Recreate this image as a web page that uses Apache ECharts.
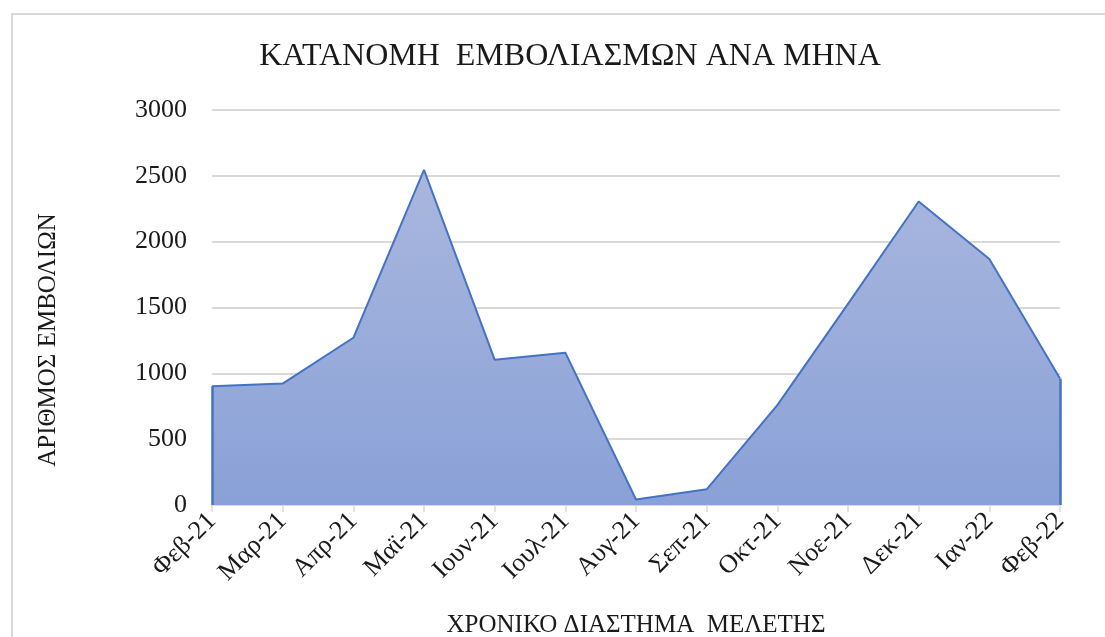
<!DOCTYPE html>
<html lang="el">
<head>
    <meta charset="utf-8">
    <script src="https://cdn.jsdelivr.net/npm/echarts@6/dist/echarts.min.js"></script>
</head>
<body style="margin:0;background:#fff;">
<div id="main" style="width:1105px;height:637px;"></div>
<script>
    var months = ['Φεβ-21', 'Μαρ-21', 'Απρ-21', 'Μαϊ-21', 'Ιουν-21', 'Ιουλ-21', 'Αυγ-21',
        'Σεπ-21', 'Οκτ-21', 'Νοε-21', 'Δεκ-21', 'Ιαν-22', 'Φεβ-22'];
    var vaccinations = [902, 922, 1270, 2545, 1104, 1157, 42, 119, 758, 1528, 2305, 1869, 960];

    var titleText = 'ΚΑΤΑΝΟΜΗ  ΕΜΒΟΛΙΑΣΜΩΝ ΑΝΑ ΜΗΝΑ';
    var yName = 'ΑΡΙΘΜΟΣ ΕΜΒΟΛΙΩΝ';
    var xName = 'ΧΡΟΝΙΚΟ ΔΙΑΣΤΗΜΑ  ΜΕΛΕΤΗΣ';

    var font = '"Liberation Serif", "DejaVu Serif", serif';
    var last = months.length - 1;

    var chart = echarts.init(document.getElementById('main'), null, {renderer: 'canvas'});
    chart.setOption({
        animation: false,
        textStyle: {fontFamily: font, color: '#1a1a1a'},
        graphic: [{
            type: 'rect',
            shape: {x: 12, y: 14, width: 1120, height: 660},
            style: {fill: 'none', stroke: '#d9d9d9', lineWidth: 2}
        }, {
            // y axis title, placed like the original (a bit below the plot centre)
            type: 'text',
            x: 48,
            y: 340,
            rotation: Math.PI / 2,
            style: {
                text: yName,
                font: '25px ' + font,
                fill: '#1a1a1a',
                textAlign: 'center',
                textVerticalAlign: 'middle'
            }
        }],
        title: {
            text: titleText,
            left: 565,
            top: 36,
            textAlign: 'center',
            textStyle: {fontFamily: font, fontSize: 32, fontWeight: 'normal', color: '#1a1a1a'}
        },
        grid: {left: 212, right: 45, top: 110, bottom: 132, outerBoundsMode: 'none', containLabel: false},
        xAxis: {
            type: 'category',
            data: months,
            boundaryGap: false,
            name: xName,
            nameLocation: 'middle',
            nameGap: 108,
            nameTextStyle: {fontFamily: font, fontSize: 25, color: '#1a1a1a'},
            axisLine: {lineStyle: {color: '#d9d9d9', width: 1.5}},
            axisTick: {show: true, alignWithLabel: true, length: 7, lineStyle: {color: '#d9d9d9', width: 1.5}},
            axisLabel: {
                rotate: 45,
                margin: 12,
                interval: 0,
                fontFamily: font,
                fontSize: 26,
                color: '#1a1a1a'
            }
        },
        yAxis: {
            type: 'value',
            min: 0,
            max: 3000,
            interval: 500,
            axisLine: {show: false},
            axisTick: {show: false},
            axisLabel: {
                fontFamily: font,
                fontSize: 26,
                color: '#1a1a1a',
                margin: 25,
                formatter: function (v) { return String(v); }
            },
            splitLine: {lineStyle: {color: '#d9d9d9', width: 2}}
        },
        series: [{
            type: 'line',
            data: vaccinations,
            symbol: 'none',
            lineStyle: {color: '#4472c4', width: 2},
            areaStyle: {
                opacity: 1,
                color: new echarts.graphic.LinearGradient(0, 0, 0, 1, [
                    {offset: 0, color: '#a9b7de'},
                    {offset: 1, color: '#8aa1d7'}
                ])
            },
            markLine: {
                silent: true,
                symbol: 'none',
                label: {show: false},
                lineStyle: {color: '#4472c4', width: 2.5, type: 'solid'},
                data: [
                    [{coord: [months[0], 0]}, {coord: [months[0], vaccinations[0]]}],
                    [{coord: [months[last], 0]}, {coord: [months[last], vaccinations[last]]}]
                ]
            }
        }]
    });
</script>
</body>
</html>
